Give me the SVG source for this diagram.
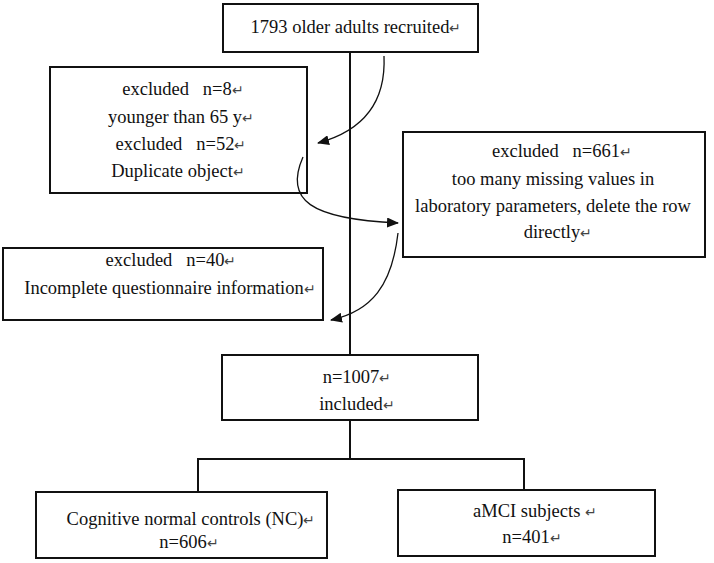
<svg xmlns="http://www.w3.org/2000/svg" width="714" height="563" viewBox="0 0 714 563">
<style>
.box{fill:#fff;stroke:#111;stroke-width:2}
.ln{fill:none;stroke:#111;stroke-width:2}
.cv{fill:none;stroke:#111;stroke-width:1.3}
text{font-family:"Liberation Serif","Times New Roman",serif;font-size:18.5px;fill:#111;text-anchor:middle;white-space:pre}
.pm{font-size:14px;fill:#444}
</style>
<defs>
<marker id="ah" viewBox="0 0 12 10" refX="11" refY="5" markerWidth="12" markerHeight="10" markerUnits="userSpaceOnUse" orient="auto">
<path d="M0,0 L12,5 L0,10 Z" fill="#111"/>
</marker>
</defs>
<rect width="714" height="563" fill="#fff"/>
<g id="recruited">
<rect class="box" x="223" y="4" width="255" height="48"/>
<text x="356" y="33">1793 older adults recruited<tspan class="pm">↵</tspan></text>
</g>
<g id="excl1">
<rect class="box" x="50" y="67" width="257" height="126"/>
<text x="183" y="95" xml:space="preserve">excluded   n=8<tspan class="pm">↵</tspan></text>
<text x="181" y="123">younger than 65 y<tspan class="pm">↵</tspan></text>
<text x="181" y="150" xml:space="preserve">excluded   n=52<tspan class="pm">↵</tspan></text>
<text x="178" y="177">Duplicate object<tspan class="pm">↵</tspan></text>
</g>
<g id="excl2">
<rect class="box" x="403" y="132" width="302" height="125"/>
<text x="562" y="157" xml:space="preserve">excluded   n=661<tspan class="pm">↵</tspan></text>
<text x="553" y="185">too many missing values in</text>
<text x="553" y="212">laboratory parameters, delete the row</text>
<text x="558" y="238">directly<tspan class="pm">↵</tspan></text>
</g>
<g id="excl3">
<rect class="box" x="3" y="248" width="320" height="72"/>
<text x="171" y="266" xml:space="preserve">excluded   n=40<tspan class="pm">↵</tspan></text>
<text x="170" y="294">Incomplete questionnaire information<tspan class="pm">↵</tspan></text>
</g>
<g id="included">
<rect class="box" x="222" y="355" width="256" height="65"/>
<text x="357" y="383">n=1007<tspan class="pm">↵</tspan></text>
<text x="357" y="410">included<tspan class="pm">↵</tspan></text>
</g>
<g id="nc">
<rect class="box" x="36" y="492" width="291" height="66"/>
<text x="191" y="525">Cognitive normal controls (NC)<tspan class="pm">↵</tspan></text>
<text x="189" y="548">n=606<tspan class="pm">↵</tspan></text>
</g>
<g id="amci">
<rect class="box" x="398" y="490" width="257" height="66"/>
<text x="535" y="517" xml:space="preserve">aMCI subjects <tspan class="pm">↵</tspan></text>
<text x="532" y="543">n=401<tspan class="pm">↵</tspan></text>
</g>
<g id="connectors">
<path class="ln" d="M350,52 V355 M350,420 V459 M198,459 H524 M198,458 V492 M524,458 V490"/>
<path class="cv" d="M384,56 C386,100 366,130 318,143" marker-end="url(#ah)"/>
<path class="cv" d="M303,157 C284,200 310,219 398,223" marker-end="url(#ah)"/>
<path class="cv" d="M398,233 C392,285 372,311 331,320" marker-end="url(#ah)"/>
</g>
</svg>
